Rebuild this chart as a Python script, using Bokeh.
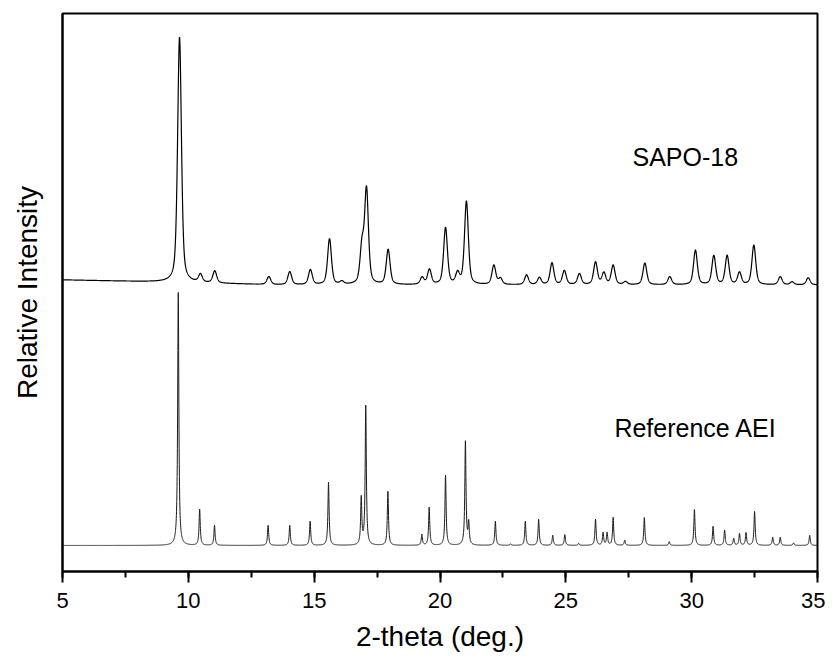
import numpy as np
from bokeh.plotting import figure
from bokeh.models import Label, SingleIntervalTicker, FixedTicker, Range1d
from bokeh.embed import file_html
from bokeh.resources import INLINE

# ---------------- data ----------------
# Reference AEI (simulated pattern): peak positions (2-theta, deg) and relative heights
REF_POS = [9.60, 10.45, 11.04, 13.17, 14.03, 14.84, 15.57, 16.87, 17.05, 17.93,
           19.28, 19.57, 20.22, 21.01, 21.14, 22.20, 22.80, 23.39, 23.92, 24.48,
           24.96, 25.51, 26.18, 26.48, 26.64, 26.88, 27.34, 28.12, 29.11, 30.11,
           30.85, 31.31, 31.67, 31.90, 32.16, 32.50, 33.22, 33.52, 34.05, 34.69]
REF_INT = [100, 14.2, 7.9, 7.9, 7.9, 9.5, 24.9, 18.5, 55.0, 21.3,
           4.3, 15.0, 27.7, 41.0, 8.5, 9.5, 0.6, 9.5, 10.3, 4.0,
           4.3, 0.8, 10.3, 5.0, 5.0, 11.0, 2.0, 11.0, 1.5, 14.2,
           7.5, 6.0, 2.8, 4.7, 5.0, 13.4, 3.2, 3.2, 1.0, 4.0]

# SAPO-18 (measured pattern): peak positions and relative heights (main peak ~ 100)
SAPO_POS = [9.65, 10.48, 11.05, 13.20, 14.03, 14.85, 15.61, 16.10, 16.90, 17.08,
            17.94, 19.29, 19.58, 20.22, 20.70, 21.05, 22.14, 22.40, 23.44, 23.95,
            24.45, 24.94, 25.54, 26.18, 26.51, 26.88, 27.37, 28.14, 29.13, 30.15,
            30.88, 31.41, 31.90, 32.47, 33.52, 33.99, 34.63]
SAPO_INT = [101.7, 3.3, 5.0, 3.3, 5.4, 6.2, 19.0, 1.2, 15.0, 39.0,
            14.5, 2.9, 6.2, 23.5, 4.5, 34.5, 8.0, 2.5, 4.0, 2.9,
            9.0, 5.8, 4.5, 9.3, 4.8, 8.0, 1.2, 9.0, 3.3, 14.3,
            12.0, 12.0, 5.0, 16.4, 3.3, 1.2, 2.9]
# SAPO-18 background level
SAPO_BG_X = [5.0, 9.0, 12.0, 13.5, 35.0]
SAPO_BG_Y = [2.1, 1.2, 0.4, 0.0, 0.0]

X_TICK_STEP = 5
SERIES_LABELS = ["SAPO-18", "Reference AEI"]

# ---------------- profile / layout parameters ----------------
REF_FWHM = 0.055
SAPO_FWHM = 0.18
SAPO_ETA = 0.5
SAPO_SCALE = 0.953
SAPO_OFFSET = 103.0

x = np.linspace(5, 35, 6001)


def lorentz(xx, x0, h, w):
    return h / (1.0 + ((xx - x0) / (w / 2.0)) ** 2)


def gauss(xx, x0, h, w):
    return h * np.exp(-4.0 * np.log(2.0) * ((xx - x0) / w) ** 2)


ref = np.zeros_like(x)
for p0, h0 in zip(REF_POS, REF_INT):
    ref += lorentz(x, p0, h0, REF_FWHM)

sapo = np.interp(x, SAPO_BG_X, SAPO_BG_Y)
for p0, h0 in zip(SAPO_POS, SAPO_INT):
    sapo += SAPO_ETA * lorentz(x, p0, h0, SAPO_FWHM) + (1 - SAPO_ETA) * gauss(x, p0, h0, SAPO_FWHM)
sapo_y = SAPO_OFFSET + SAPO_SCALE * sapo

FONT = "Liberation Sans"

p = figure(frame_width=755, frame_height=558,
           x_range=Range1d(5, 35), y_range=Range1d(-10.3, 210.3),
           output_backend="svg", toolbar_location=None,
           min_border_left=62, min_border_top=13, min_border_right=8, min_border_bottom=87)

p.xgrid.visible = False
p.ygrid.visible = False
p.outline_line_color = "black"
p.outline_line_width = 2
p.background_fill_color = "white"
p.border_fill_color = "white"

p.line(x, ref, line_color="#1a1a1a", line_width=1)
p.line(x, sapo_y, line_color="black", line_width=1.2)

xa = p.xaxis[0]
xa.ticker = SingleIntervalTicker(interval=X_TICK_STEP, num_minor_ticks=2)
xa.axis_line_width = 2
xa.axis_line_color = "black"
xa.major_tick_in = 0
xa.major_tick_out = 11
xa.minor_tick_in = 0
xa.minor_tick_out = 6
xa.major_tick_line_width = 2
xa.minor_tick_line_width = 2
xa.major_tick_line_color = "black"
xa.minor_tick_line_color = "black"
xa.major_label_text_font = FONT
xa.major_label_text_font_size = "22px"
xa.major_label_text_color = "black"
xa.major_label_standoff = 10
xa.axis_label = "2-theta (deg.)"
xa.axis_label_text_font = FONT
xa.axis_label_text_font_size = "28px"
xa.axis_label_text_font_style = "normal"
xa.axis_label_text_color = "black"
xa.axis_label_standoff = 10

ya = p.yaxis[0]
ya.ticker = FixedTicker(ticks=[])
ya.axis_line_width = 2
ya.axis_line_color = "black"
ya.major_tick_line_color = None
ya.minor_tick_line_color = None
ya.axis_label = "Relative Intensity"
ya.axis_label_text_font = FONT
ya.axis_label_text_font_size = "28px"
ya.axis_label_text_font_style = "normal"
ya.axis_label_text_color = "black"
ya.axis_label_standoff = 20

p.add_layout(Label(x=27.65, y=153.4, text=SERIES_LABELS[0], text_font=FONT,
                   text_font_size="25px", text_color="black",
                   text_align="left", text_baseline="alphabetic"))
p.add_layout(Label(x=26.93, y=46.6, text=SERIES_LABELS[1], text_font=FONT,
                   text_font_size="25px", text_color="black",
                   text_align="left", text_baseline="alphabetic"))

open("out.html", "w").write(file_html(p, INLINE))
